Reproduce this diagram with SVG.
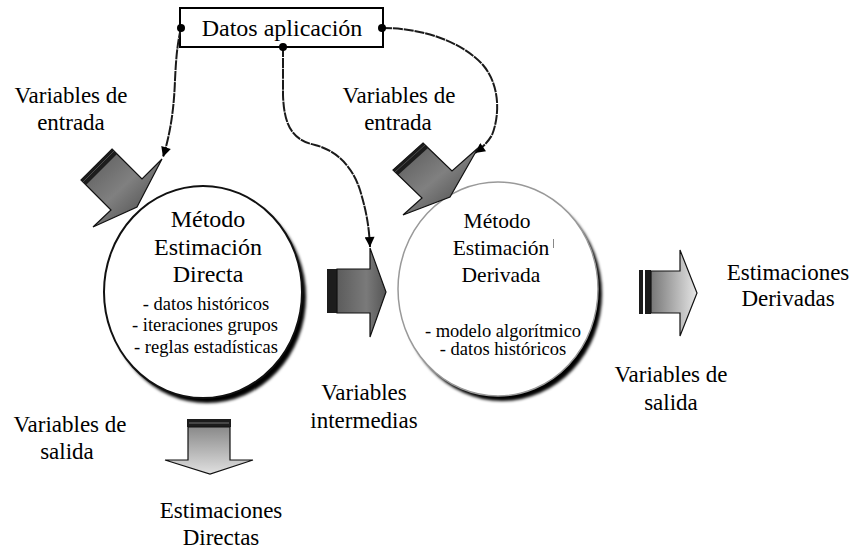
<svg xmlns="http://www.w3.org/2000/svg" width="853" height="551" viewBox="0 0 853 551">
<defs>
<style>
text{font-family:"Liberation Serif","Times New Roman",serif;fill:#000;}
.lbl{font-size:23px;text-anchor:middle;}
.t1{font-size:24px;text-anchor:middle;}
.t2{font-size:21.5px;text-anchor:middle;}
.b{font-size:18.5px;text-anchor:middle;}
.conn{fill:none;stroke:#1a1a1a;stroke-width:2;stroke-dasharray:10 0.9;}
.dot{fill:#000;}
.bar{fill:#1c1c1c;}
</style>
<marker id="ah" viewBox="0 0 10 10" refX="10" refY="5" markerWidth="11" markerHeight="10" markerUnits="userSpaceOnUse" orient="auto">
<path d="M0,0 L10,5 L0,10 z" fill="#000"/>
</marker>
<filter id="blur" x="-10%" y="-10%" width="120%" height="120%"><feGaussianBlur stdDeviation="1.6"/></filter>
<linearGradient id="gDiag" x1="0" y1="0" x2="1" y2="1">
<stop offset="0" stop-color="#555"/><stop offset="0.5" stop-color="#808080"/><stop offset="1" stop-color="#3e3e3e"/>
</linearGradient>
<linearGradient id="gMid" x1="0" y1="0" x2="1" y2="0">
<stop offset="0" stop-color="#5c5c5c"/><stop offset="0.6" stop-color="#7a7a7a"/><stop offset="1" stop-color="#555"/>
</linearGradient>
<linearGradient id="gRight" x1="0" y1="0" x2="1" y2="0">
<stop offset="0" stop-color="#777"/><stop offset="1" stop-color="#e6e6e6"/>
</linearGradient>
<linearGradient id="gDown" x1="0" y1="0" x2="0" y2="1">
<stop offset="0" stop-color="#8a8a8a"/><stop offset="1" stop-color="#e0e0e0"/>
</linearGradient>
</defs>
<rect width="853" height="551" fill="#fff"/>

<g id="circle-directa">
<ellipse cx="207" cy="297" rx="99" ry="106" fill="#000" filter="url(#blur)"/>
<ellipse cx="203" cy="292" rx="99" ry="106" fill="#fff" stroke="#111" stroke-width="2"/>
<text class="t1" x="208" y="227">Método</text>
<text class="t1" x="208" y="255">Estimación</text>
<text class="t1" x="208" y="282">Directa</text>
<text class="b" x="206" y="310">- datos históricos</text>
<text class="b" x="205" y="331">- iteraciones grupos</text>
<text class="b" x="206" y="353">- reglas estadísticas</text>
</g>

<g id="circle-derivada">
<ellipse cx="502" cy="294" rx="100" ry="107" fill="#000" filter="url(#blur)"/>
<ellipse cx="498" cy="289" rx="100" ry="107" fill="#fff" stroke="#999" stroke-width="1.5"/>
<text class="t2" x="497" y="228">Método</text>
<text class="t2" x="501" y="255">Estimación</text>
<line x1="553.5" y1="239" x2="553.5" y2="248" stroke="#888" stroke-width="1"/>
<text class="t2" x="501" y="282">Derivada</text>
<text class="b" x="503" y="337">- modelo algorítmico</text>
<text class="b" x="503" y="355">- datos históricos</text>
</g>

<g id="datos-aplicacion">
<rect x="180" y="8" width="203" height="39" fill="#fff" stroke="#000" stroke-width="2"/>
<text class="t1" x="282" y="36">Datos aplicación</text>
</g>

<g id="connectors">
<path class="conn" d="M181,28 C177,45 176,60 175,80 C174,110 170,135 163,157" marker-end="url(#ah)"/>
<path class="conn" d="M283,47 L283,95 C284,125 292,140 315,145 C335,150 352,165 360,190 C366,210 369,225 370,247" marker-end="url(#ah)"/>
<path class="conn" d="M382,28 C420,28 460,40 483,65 C500,85 500,115 492,135 C488,142 482,148 475,153" marker-end="url(#ah)"/>
<circle class="dot" cx="181" cy="28" r="4"/>
<circle class="dot" cx="382" cy="28" r="4"/>
<circle class="dot" cx="283" cy="47" r="4"/>
</g>

<g id="arrow-entrada-1">
<polygon points="112,149 142,179 162,159 137,207 93,227 111,210 81,180" fill="url(#gDiag)" stroke="#111" stroke-width="1.2" stroke-linejoin="miter"/>
<polygon class="bar" points="112,149 81,180 86,185 117,154"/>
<line x1="114" y1="151" x2="83" y2="182" stroke="#555" stroke-width="0.8"/>
</g>

<g id="arrow-entrada-2">
<polygon points="423,143 452,171 478,148 450,197 403,215 422,198 393,170" fill="url(#gDiag)" stroke="#111" stroke-width="1.2"/>
<polygon class="bar" points="423,143 393,170 398,175 428,148"/>
<line x1="425" y1="145" x2="395" y2="172" stroke="#555" stroke-width="0.8"/>
</g>

<g id="arrow-intermedias">
<rect class="bar" x="327" y="269" width="10" height="44"/>
<polygon points="337,269 370,269 370,248 386,292 370,337 370,313 337,313" fill="url(#gMid)" stroke="#111" stroke-width="1.2"/>
</g>

<g id="arrow-salida-derivada">
<rect class="bar" x="639" y="270" width="4" height="44"/>
<rect class="bar" x="645" y="270" width="6" height="44"/>
<polygon points="651,271 680,271 680,250 697,293 680,336 680,313 651,313" fill="url(#gRight)" stroke="#111" stroke-width="1.2"/>
</g>

<g id="arrow-salida-directa">
<rect class="bar" x="187" y="419" width="44" height="8"/>
<line x1="189" y1="423" x2="229" y2="423" stroke="#888" stroke-width="0.8"/>
<polygon points="188,427 230,427 230,460 253,460 210,474 165,460 188,460" fill="url(#gDown)" stroke="#111" stroke-width="1.2"/>
</g>

<g id="labels">
<text class="lbl" x="71" y="103">Variables de</text>
<text class="lbl" x="71" y="130">entrada</text>
<text class="lbl" x="399" y="103">Variables de</text>
<text class="lbl" x="398" y="130">entrada</text>
<text class="lbl" x="364" y="400">Variables</text>
<text class="lbl" x="364" y="428">intermedias</text>
<text class="lbl" x="788" y="280">Estimaciones</text>
<text class="lbl" x="788" y="306">Derivadas</text>
<text class="lbl" x="671" y="382">Variables de</text>
<text class="lbl" x="671" y="410">salida</text>
<text class="lbl" x="70" y="432">Variables de</text>
<text class="lbl" x="67" y="459">salida</text>
<text class="lbl" x="221" y="518">Estimaciones</text>
<text class="lbl" x="221" y="545">Directas</text>
</g>
</svg>
